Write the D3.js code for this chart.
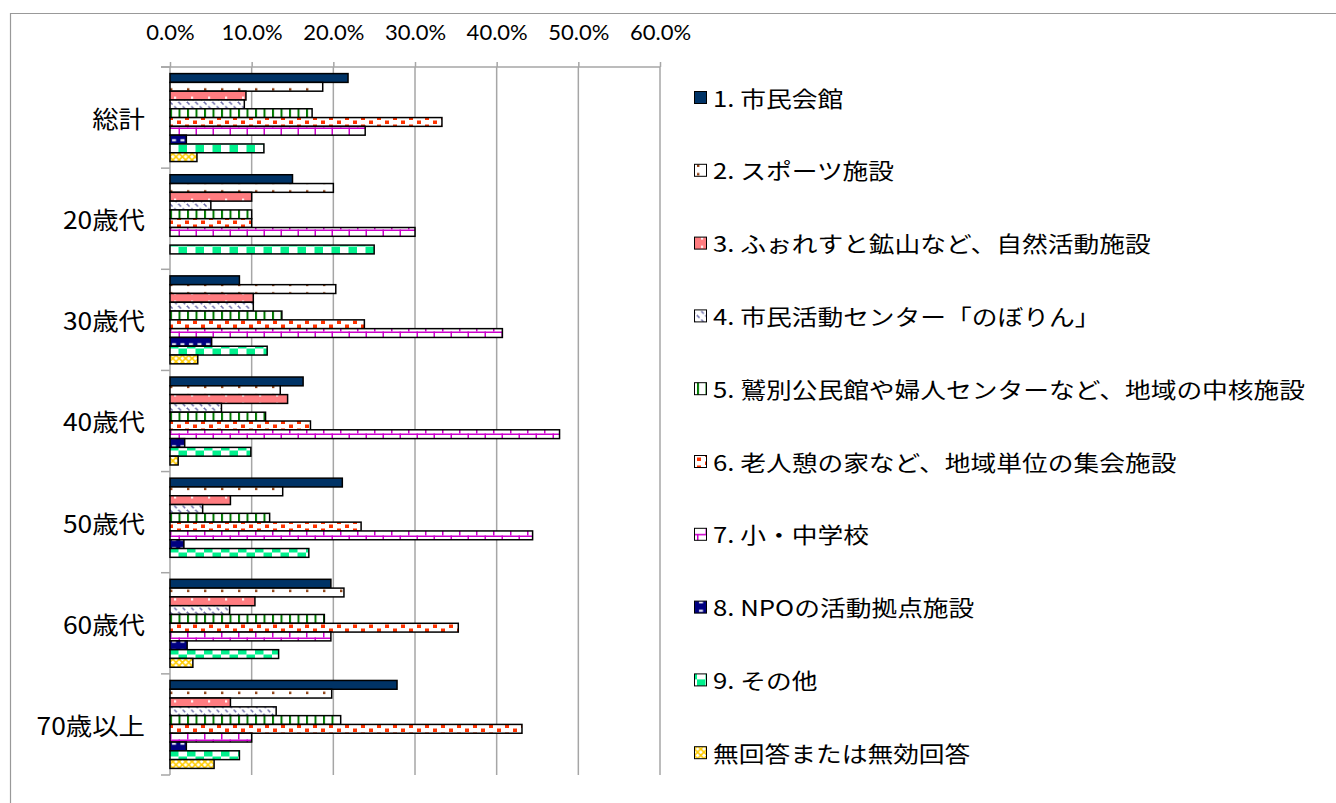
<!DOCTYPE html>
<html>
<head>
<meta charset="utf-8">
<script src="https://cdn.jsdelivr.net/npm/d3@7"></script>
<style>
  html, body { margin: 0; padding: 0; background: #fff; }
  svg { display: block; }
</style>
</head>
<body>
<svg id="chart" width="1336" height="803"></svg>
<script>
// Age groups (rows) and facility choices (series)
const categories = ["総計", "20歳代", "30歳代", "40歳代", "50歳代", "60歳代", "70歳以上"];
const seriesNames = [
  "1. 市民会館",
  "2. スポーツ施設",
  "3. ふぉれすと鉱山など、自然活動施設",
  "4. 市民活動センター「のぼりん」",
  "5. 鷲別公民館や婦人センターなど、地域の中核施設",
  "6. 老人憩の家など、地域単位の集会施設",
  "7. 小・中学校",
  "8. NPOの活動拠点施設",
  "9. その他",
  "無回答または無効回答"
];
// Percent values, one array per series, in category order
const s1  = [21.8, 15.0,  8.5, 16.3, 21.1, 19.7, 27.8];
const s2  = [18.7, 20.0, 20.3, 13.5, 13.8, 21.3, 19.8];
const s3  = [ 9.3, 10.0, 10.2, 14.4,  7.4, 10.4,  7.4];
const s4  = [ 9.1,  5.0, 10.2,  6.3,  4.0,  7.3, 13.0];
const s5  = [17.4, 10.0, 13.7, 11.7, 12.2, 18.9, 20.9];
const s6  = [33.3, 10.0, 23.8, 17.2, 23.4, 35.3, 43.1];
const s7  = [23.9, 30.0, 40.7, 47.7, 44.4, 19.7, 10.0];
const s8  = [ 2.0,  0.0,  5.1,  1.8,  1.7,  2.1,  2.0];
const s9  = [11.5, 25.0, 11.9,  9.9, 17.0, 13.3,  8.5];
const s10 = [ 3.3,  0.0,  3.4,  1.0,  0.0,  2.8,  5.4];
const seriesValues = [s1, s2, s3, s4, s5, s6, s7, s8, s9, s10];
const tickValues = [0, 10, 20, 30, 40, 50, 60];

const svg = d3.select("#chart");
svg.append("rect").attr("width", 1336).attr("height", 803).attr("fill", "#fff");

// ---- fill patterns ----
const defs = svg.append("defs");
function pattern(id, w, h, bg) {
  const p = defs.append("pattern").attr("id", id)
    .attr("patternUnits", "userSpaceOnUse").attr("width", w).attr("height", h);
  p.append("rect").attr("width", w).attr("height", h).attr("fill", bg);
  return p;
}
// 2: sparse brown dots
let p = pattern("pat2", 17, 8.5, "#fff");
p.append("rect").attr("x", 0).attr("y", 3.2).attr("width", 2.4).attr("height", 2.4).attr("fill", "#8B3A0A");
// 3: salmon with white dots
p = pattern("pat3", 17, 8.5, "#FF7C80");
p.append("rect").attr("x", 4).attr("y", 3.2).attr("width", 2.2).attr("height", 2.2).attr("fill", "#fff");
// 4: dashed downward diagonal
p = pattern("pat4", 8.5, 8.5, "#fff");
p.append("path").attr("d", "M0,0L8.5,8.5M-1,7.5L1,9.5M7.5,-1L9.5,1")
  .attr("stroke", "#6A6AA8").attr("stroke-width", 1.4).attr("stroke-dasharray", "3.5,2.5");
// 5: green vertical lines
p = pattern("pat5", 8.5, 8.5, "#fff");
p.append("rect").attr("x", 0).attr("width", 2).attr("height", 8.5).attr("fill", "#007A00");
// 6: red-orange confetti
p = pattern("pat6", 16, 8, "#fff");
p.append("rect").attr("x", 1).attr("y", 0.5).attr("width", 4).attr("height", 3.5).attr("fill", "#FF3300");
p.append("rect").attr("x", 9).attr("y", 4.5).attr("width", 4).attr("height", 3.5).attr("fill", "#FF3300");
// 7: magenta horizontal brick
p = pattern("pat7", 17, 17, "#fff");
p.append("rect").attr("y", 0).attr("width", 17).attr("height", 1.5).attr("fill", "#CC00CC");
p.append("rect").attr("y", 8.5).attr("width", 17).attr("height", 1.5).attr("fill", "#CC00CC");
p.append("rect").attr("x", 0).attr("y", 0).attr("width", 1.5).attr("height", 8.5).attr("fill", "#CC00CC");
p.append("rect").attr("x", 8.5).attr("y", 8.5).attr("width", 1.5).attr("height", 8.5).attr("fill", "#CC00CC");
// 8: navy with white dashes
p = pattern("pat8", 8.5, 8.5, "#000080");
p.append("rect").attr("x", 2).attr("y", 3.2).attr("width", 4).attr("height", 2).attr("fill", "#fff");
// 9: spring-green large checker
p = pattern("pat9", 17, 17, "#fff");
p.append("rect").attr("x", 0).attr("y", 0).attr("width", 8.5).attr("height", 8.5).attr("fill", "#00F08C");
p.append("rect").attr("x", 8.5).attr("y", 8.5).attr("width", 8.5).attr("height", 8.5).attr("fill", "#00F08C");
// 10: yellow trellis
p = pattern("pat10", 6.4, 6.4, "#fff");
p.append("path").attr("d", "M0,0L6.4,6.4M6.4,0L0,6.4")
  .attr("stroke", "#FFCC00").attr("stroke-width", 1.6);

const fills = ["#003366", "url(#pat2)", "url(#pat3)", "url(#pat4)", "url(#pat5)",
               "url(#pat6)", "url(#pat7)", "url(#pat8)", "url(#pat9)", "url(#pat10)"];

// ---- outer frame ----
svg.append("path").attr("d", "M10.5,803V13.5H1336")
  .attr("fill", "none").attr("stroke", "#999").attr("stroke-width", 1.2);

// ---- scales ----
const plot = { left: 170, right: 660, top: 67, bottom: 775 };
const x = d3.scaleLinear().domain([0, 60]).range([plot.left, plot.right]);
const y0 = d3.scaleBand().domain(categories).range([plot.top, plot.bottom]).paddingInner(0).paddingOuter(0);
const y1 = d3.scaleBand().domain(d3.range(seriesNames.length))
  .range([0, y0.bandwidth()]).paddingInner(0).paddingOuter(0.75);

const gridColor = "#A6A6A6";

// vertical gridlines
svg.append("g").selectAll("line").data(tickValues.slice(1)).join("line")
  .attr("x1", d => x(d)).attr("x2", d => x(d))
  .attr("y1", plot.top).attr("y2", plot.bottom)
  .attr("stroke", gridColor).attr("stroke-width", 1.5);

// top value axis
const xAxis = d3.axisTop(x).tickValues(tickValues).tickSize(5).tickPadding(0)
  .tickFormat(d => d.toFixed(1) + "%");
const gx = svg.append("g").attr("transform", `translate(0,${plot.top})`).call(xAxis);
gx.select(".domain").attr("d", `M${plot.left - 9},0H${plot.right}`)
  .attr("stroke", gridColor).attr("stroke-width", 1.5);
gx.selectAll(".tick line").attr("stroke", gridColor).attr("stroke-width", 1.5);
gx.selectAll(".tick text").attr("fill", "#000")
  .attr("font-family", "Lato, 'Open Sans', sans-serif").attr("font-size", 22)
  .attr("y", -27).attr("dy", 0);

// left category axis
const gy = svg.append("g");
gy.append("line").attr("x1", plot.left).attr("x2", plot.left)
  .attr("y1", plot.top).attr("y2", plot.bottom)
  .attr("stroke", gridColor).attr("stroke-width", 1.5);
const bounds = categories.map(c => y0(c)).concat([plot.bottom]);
gy.selectAll("line.tk").data(bounds).join("line").attr("class", "tk")
  .attr("x1", plot.left - 9).attr("x2", plot.left)
  .attr("y1", d => d).attr("y2", d => d)
  .attr("stroke", gridColor).attr("stroke-width", 1.5);
gy.selectAll("text").data(categories).join("text")
  .attr("transform", d => `translate(145,${y0(d) + y0.bandwidth() / 2}) scale(1.1,1)`)
  .attr("text-anchor", "end").attr("dominant-baseline", "central")
  .attr("font-family", "'Noto Sans CJK JP', sans-serif").attr("font-size", 24)
  .attr("fill", "#000").text(d => d);

// ---- bars ----
const bars = [];
categories.forEach((c, ci) => {
  seriesValues.forEach((vals, si) => {
    if (vals[ci] > 0) bars.push({ c, si, v: vals[ci] });
  });
});
svg.append("g").selectAll("rect").data(bars).join("rect")
  .attr("x", x(0))
  .attr("y", d => y0(d.c) + y1(d.si))
  .attr("width", d => x(d.v) - x(0))
  .attr("height", y1.bandwidth())
  .attr("fill", d => fills[d.si])
  .attr("stroke", "#000").attr("stroke-width", 1.5);

// ---- legend ----
const lg = svg.append("g");
const legendTop = 97, legendStep = 72.8;
const items = lg.selectAll("g").data(seriesNames).join("g")
  .attr("transform", (d, i) => `translate(0,${legendTop + i * legendStep})`);
items.append("rect").attr("x", 694.5).attr("y", -5.5).attr("width", 12).attr("height", 12)
  .attr("fill", (d, i) => fills[i]).attr("stroke", "#000").attr("stroke-width", 1);
items.append("text")
  .attr("transform", "translate(713,0) scale(1.17,1)")
  .attr("dominant-baseline", "central")
  .attr("font-family", "'Noto Sans CJK JP', sans-serif").attr("font-size", 22)
  .attr("fill", "#000").text(d => d);
</script>
</body>
</html>
